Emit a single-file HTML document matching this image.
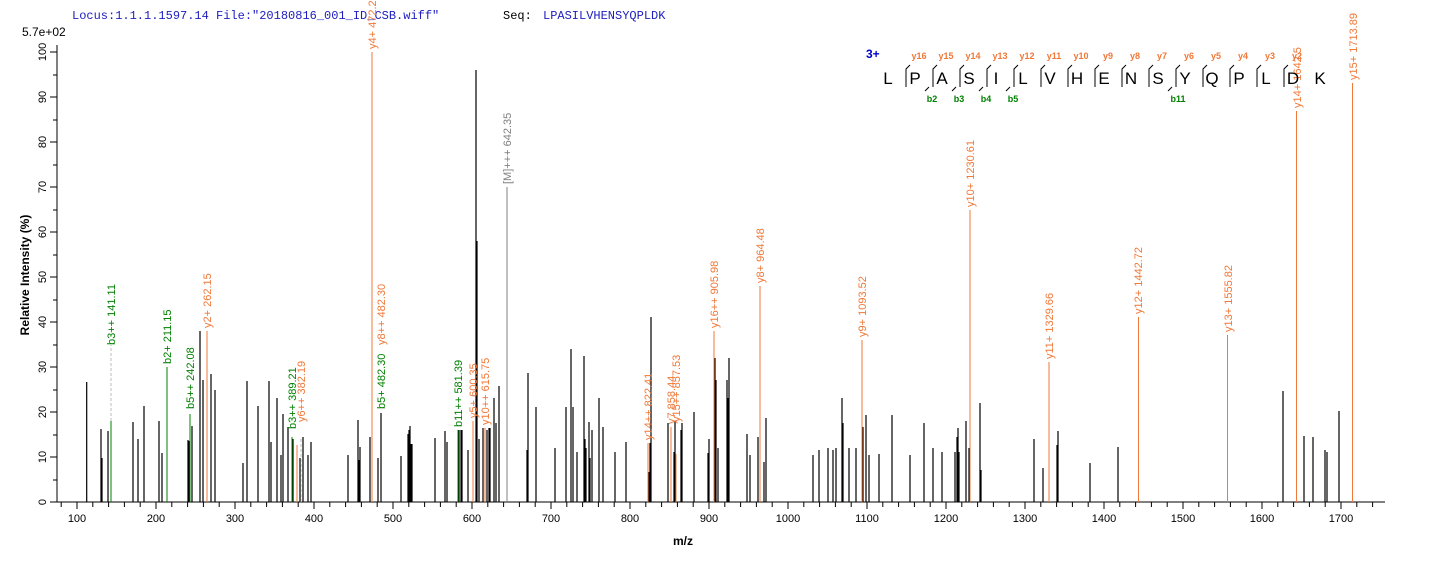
<!DOCTYPE html>
<html><head><meta charset="utf-8"><style>
body{margin:0;background:#fff;}
svg{display:block;font-family:"Liberation Sans",Arial,sans-serif;}
</style></head><body>
<svg width="1436" height="562" viewBox="0 0 1436 562" xmlns="http://www.w3.org/2000/svg">
<text x="72" y="19" font-family="Liberation Mono,monospace" font-size="12" fill="#2020c0">Locus:1.1.1.1597.14 File:"20180816_001_ID_CSB.wiff"</text>
<text x="503" y="19" font-family="Liberation Mono,monospace" font-size="12" fill="#000">Seq:</text>
<text x="543" y="19" font-family="Liberation Mono,monospace" font-size="12" fill="#2020c0">LPASILVHENSYQPLDK</text>
<text x="22" y="36" font-size="12" fill="#000">5.7e+02</text>
<path d="M57 45V502H1385" stroke="#000" fill="none"/>
<g stroke="#000">
<path d="M50 502H57M50 457H57M50 412H57M50 367H57M50 322H57M50 277H57M50 232H57M50 187H57M50 142H57M50 97H57M50 52H57"/>
<path d="M53 480H57M53 435H57M53 390H57M53 345H57M53 300H57M53 255H57M53 210H57M53 165H57M53 120H57M53 75H57"/>
</g>
<g font-size="11" fill="#000" text-anchor="middle">
<text transform="translate(46,502) rotate(-90)">0</text>
<text transform="translate(46,457) rotate(-90)">10</text>
<text transform="translate(46,412) rotate(-90)">20</text>
<text transform="translate(46,367) rotate(-90)">30</text>
<text transform="translate(46,322) rotate(-90)">40</text>
<text transform="translate(46,277) rotate(-90)">50</text>
<text transform="translate(46,232) rotate(-90)">60</text>
<text transform="translate(46,187) rotate(-90)">70</text>
<text transform="translate(46,142) rotate(-90)">80</text>
<text transform="translate(46,97) rotate(-90)">90</text>
<text transform="translate(46,52) rotate(-90)">100</text>
</g>
<text transform="translate(29,275) rotate(-90)" text-anchor="middle" font-size="12" font-weight="bold">Relative   Intensity (%)</text>
<g stroke="#000">
<path d="M61.2 502v5M77 502v7M92.8 502v5M108.6 502v5M124.4 502v5M140.2 502v5M156 502v7M171.8 502v5M187.6 502v5M203.4 502v5M219.2 502v5M235 502v7M250.8 502v5M266.6 502v5M282.4 502v5M298.2 502v5M314 502v7M329.8 502v5M345.6 502v5M361.4 502v5M377.2 502v5M393 502v7M408.8 502v5M424.6 502v5M440.4 502v5M456.2 502v5M472 502v7M487.8 502v5M503.6 502v5M519.4 502v5M535.2 502v5M551 502v7M566.8 502v5M582.6 502v5M598.4 502v5M614.2 502v5M630 502v7M645.8 502v5M661.6 502v5M677.4 502v5M693.2 502v5M709 502v7M724.8 502v5M740.6 502v5M756.4 502v5M772.2 502v5M788 502v7M803.8 502v5M819.6 502v5M835.4 502v5M851.2 502v5M867 502v7M882.8 502v5M898.6 502v5M914.4 502v5M930.2 502v5M946 502v7M961.8 502v5M977.6 502v5M993.4 502v5M1009.2 502v5M1025 502v7M1040.8 502v5M1056.6 502v5M1072.4 502v5M1088.2 502v5M1104 502v7M1119.8 502v5M1135.6 502v5M1151.4 502v5M1167.2 502v5M1183 502v7M1198.8 502v5M1214.6 502v5M1230.4 502v5M1246.2 502v5M1262 502v7M1277.8 502v5M1293.6 502v5M1309.4 502v5M1325.2 502v5M1341 502v7M1356.8 502v5M1372.6 502v5"/>
</g>
<g font-size="11" fill="#000" text-anchor="middle">
<text x="77" y="522">100</text><text x="156" y="522">200</text><text x="235" y="522">300</text><text x="314" y="522">400</text><text x="393" y="522">500</text><text x="472" y="522">600</text><text x="551" y="522">700</text><text x="630" y="522">800</text><text x="709" y="522">900</text><text x="788" y="522">1000</text><text x="867" y="522">1100</text><text x="946" y="522">1200</text><text x="1025" y="522">1300</text><text x="1104" y="522">1400</text><text x="1183" y="522">1500</text><text x="1262" y="522">1600</text><text x="1341" y="522">1700</text>
</g>
<text x="683" y="545" font-size="12" font-weight="bold" text-anchor="middle">m/z</text>
<path stroke="#000" stroke-width="1.2" fill="none" d="M86.7 502V382M101 502V429M102 502V458M108 502V431M133 502V422M138 502V439M144 502V406M159 502V421M162 502V453M188 502V440M189 502V441M192 502V426M200 502V331M203 502V380M211 502V374M215 502V390M243 502V463M247 502V381M258 502V406M269 502V381M271 502V442M277 502V398M281 502V455M283 502V414M288 502V427M293 502V439M300 502V458M303 502V437M308 502V455M311 502V442M348 502V455M358 502V420M359 502V460M360 502V447M370 502V437M378 502V458M381 502V413M401 502V456M408 502V434M409 502V430M410 502V426M411 502V444M412 502V444M435 502V438M445 502V431M447 502V442M459 502V430M461 502V430M462 502V430M468 502V450M476 502V70M477 502V241M479 502V439M483 502V428M487 502V430M489 502V428M490 502V428M494 502V398M496 502V423M499 502V386M527 502V450M528 502V373M536 502V407M555 502V448M566 502V407M571 502V349M573 502V407M577 502V452M584 502V356M585 502V439M586 502V448M589 502V422M590 502V458M592 502V430M599 502V398M603 502V427M615 502V452M626 502V442M649 502V472M650 502V443M651 502V317M668 502V423M674 502V452M675 502V421M681 502V430M682 502V423M694 502V412M708 502V453M709 502V439M715 502V358M716 502V380M718 502V448M727 502V380M728 502V398M729 502V358M747 502V434M750 502V455M758 502V437M764 502V462M766 502V418M813 502V455M819 502V450M828 502V448M833 502V450M836 502V448M842 502V398M843 502V423M849 502V448M856 502V448M863 502V427M866 502V415M869 502V455M879 502V454M892 502V415M910 502V455M924 502V423M933 502V448M942 502V452M955 502V452M957 502V437M958 502V428M959 502V452M966 502V421M969 502V448M980 502V403M981 502V470M1034 502V439M1043 502V468M1057 502V445M1058 502V431M1090 502V463M1118 502V447M1283 502V391M1304 502V436M1313 502V437M1325 502V450M1327 502V452M1339 502V411"/>
<path stroke="#bbb" stroke-dasharray="3,2" d="M111 421V345M301 502V437"/>
<path stroke="#008000" fill="none" d="M111 502V421M167 502V367M190 502V414M292 502V437M458 502V430"/>
<path stroke="#f07838" fill="none" d="M207 502V331M297 502V445M372 502V52M473 502V421M485 502V428M648 502V443M671 502V427M676 502V454M714 502V331M760 502V286M862 502V340M970 502V210M1049 502V362M1138.5 502V317M1227.5 502V335M1296.5 502V111M1352.5 502V83"/>
<path stroke="#808080" d="M507 502V187"/>
<g font-size="11" fill="#008000">
<text transform="translate(115,345) rotate(-90)">b3++ 141.11</text>
<text transform="translate(171,364) rotate(-90)">b2+ 211.15</text>
<text transform="translate(194,409) rotate(-90)">b5++ 242.08</text>
<text transform="translate(385,409) rotate(-90)">b5+ 482.30</text>
<text transform="translate(462,427) rotate(-90)">b11++ 581.39</text>
<text transform="translate(296,429) rotate(-90)">b3++ 389.21</text>
</g>
<g font-size="11" fill="#f07838">
<text transform="translate(211,328) rotate(-90)">y2+ 262.15</text>
<text transform="translate(305,422) rotate(-90)">y6++ 382.19</text>
<text transform="translate(376,49) rotate(-90)">y4+ 472.29</text>
<text transform="translate(385,345) rotate(-90)">y8++ 482.30</text>
<text transform="translate(477,418) rotate(-90)">y5+ 600.35</text>
<text transform="translate(489,425) rotate(-90)">y10++ 615.75</text>
<text transform="translate(652,440) rotate(-90)">y14++ 822.41</text>
<text transform="translate(675,424) rotate(-90)">y7 858.44</text>
<text transform="translate(680,422) rotate(-90)">y15++ 857.53</text>
<text transform="translate(718,328) rotate(-90)">y16++ 905.98</text>
<text transform="translate(764,283) rotate(-90)">y8+ 964.48</text>
<text transform="translate(866,337) rotate(-90)">y9+ 1093.52</text>
<text transform="translate(974,207) rotate(-90)">y10+ 1230.61</text>
<text transform="translate(1053,359) rotate(-90)">y11+ 1329.66</text>
<text transform="translate(1142,314) rotate(-90)">y12+ 1442.72</text>
<text transform="translate(1232,332) rotate(-90)">y13+ 1555.82</text>
<text transform="translate(1301,108) rotate(-90)">y14+ 1642.5</text>
<text transform="translate(1357,80) rotate(-90)">y15+ 1713.89</text>
</g>
<text transform="translate(511,184) rotate(-90)" font-size="11" fill="#808080">[M]+++ 642.35</text>
<text x="866" y="58" font-size="12" font-weight="bold" fill="#0000cc">3+</text>
<g font-size="17" fill="#000" text-anchor="middle">
<text x="888" y="84">L</text><text x="915" y="84">P</text><text x="942" y="84">A</text><text x="969" y="84">S</text><text x="996" y="84">I</text><text x="1023" y="84">L</text><text x="1050" y="84">V</text><text x="1077" y="84">H</text><text x="1104" y="84">E</text><text x="1131" y="84">N</text><text x="1158" y="84">S</text><text x="1185" y="84">Y</text><text x="1212" y="84">Q</text><text x="1239" y="84">P</text><text x="1266" y="84">L</text><text x="1293" y="84">D</text><text x="1320" y="84">K</text>
</g>
<path stroke="#000" fill="none" d="M906 87V69l4-4M933 87V69l4-4M960 87V69l4-4M987 87V69l4-4M1014 87V69l4-4M1041 87V69l4-4M1068 87V69l4-4M1095 87V69l4-4M1122 87V69l4-4M1149 87V69l4-4M1176 87V69l4-4M1203 87V69l4-4M1230 87V69l4-4M1257 87V69l4-4M1284 87V69l4-4M929 87l-4 4M956 87l-4 4M983 87l-4 4M1010 87l-4 4M1172 87l-4 4"/>
<g font-size="9" font-weight="bold" fill="#f07838" text-anchor="middle">
<text x="919" y="59">y16</text><text x="946" y="59">y15</text><text x="973" y="59">y14</text><text x="1000" y="59">y13</text><text x="1027" y="59">y12</text><text x="1054" y="59">y11</text><text x="1081" y="59">y10</text><text x="1108" y="59">y9</text><text x="1135" y="59">y8</text><text x="1162" y="59">y7</text><text x="1189" y="59">y6</text><text x="1216" y="59">y5</text><text x="1243" y="59">y4</text><text x="1270" y="59">y3</text><text x="1297" y="59">y2</text>
</g>
<g font-size="9" font-weight="bold" fill="#008000" text-anchor="middle">
<text x="932" y="102">b2</text><text x="959" y="102">b3</text><text x="986" y="102">b4</text><text x="1013" y="102">b5</text><text x="1178" y="102">b11</text>
</g>
</svg>
</body></html>
